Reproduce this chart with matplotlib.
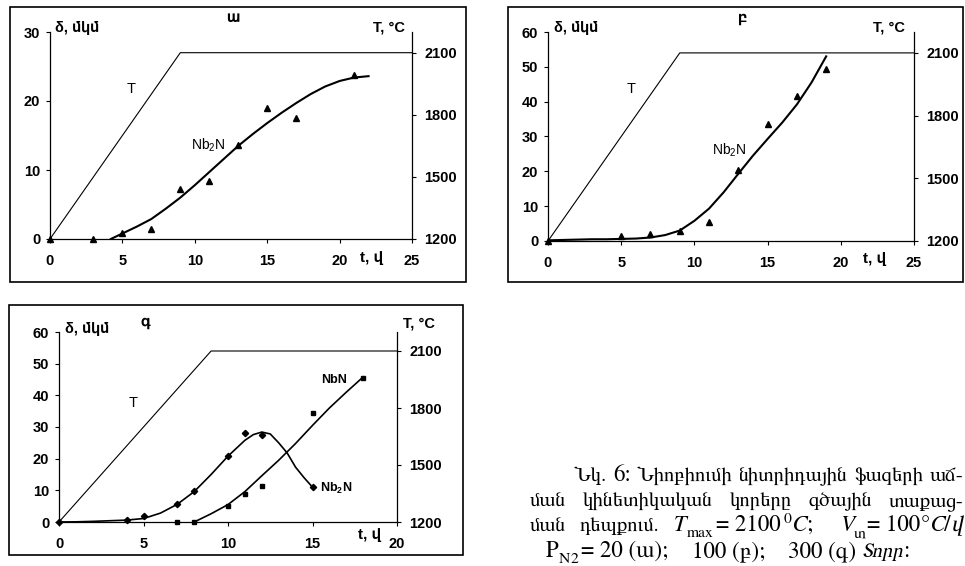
import matplotlib
matplotlib.use("Agg")
import matplotlib.pyplot as plt
from matplotlib.patches import Rectangle

plt.rcParams['font.family'] = ['Liberation Sans', 'FreeSans', 'DejaVu Sans']
plt.rcParams['mathtext.default'] = 'regular'

W, H = 965, 566
SERIF = ['FreeSerif', 'Liberation Serif', 'DejaVu Serif']

# temperature programme (right axis), same for all panels
T_t = [0, 9, 25]
T_val = [1200, 2100, 2100]
T_t_c = [0, 9, 20]

# panel a: P_N2 = 20 Torr
a_t = [0, 3, 5, 7, 9, 11, 13, 15, 17, 21]
a_nb2n = [0, 0, 0.8, 1.5, 7.2, 8.4, 13.6, 19.0, 17.5, 23.7]
a_fit_t = [4.2, 5, 6, 7, 8, 9, 10, 11, 12, 13, 14, 15, 16, 17, 18, 19, 20, 21, 22]
a_fit = [0, 0.8, 1.8, 2.9, 4.4, 6.0, 7.8, 9.7, 11.6, 13.5, 15.2, 16.8, 18.3, 19.7, 21.0, 22.1, 22.9, 23.4, 23.6]

# panel b: P_N2 = 100 Torr
b_t = [0, 5, 7, 9, 11, 13, 15, 17, 19]
b_nb2n = [0, 1.5, 2.0, 3.0, 5.5, 20.5, 33.5, 41.5, 49.5]
b_fit_t = [0, 1, 2, 3, 4, 5, 6, 7, 8, 9, 10, 11, 12, 13, 14, 15, 16, 17, 18, 19]
b_fit = [0.2, 0.3, 0.4, 0.5, 0.5, 0.6, 0.7, 1.0, 1.7, 3.0, 5.8, 9.3, 14.0, 19.3, 24.5, 29.3, 34.0, 39.2, 45.5, 53.0]

# panel c: P_N2 = 300 Torr
c_t_nb2n = [0, 4, 5, 7, 8, 10, 11, 12, 15]
c_nb2n = [0, 0.5, 1.8, 5.7, 9.8, 21.0, 28.0, 27.5, 11.0]
c_fit_t_nb2n = [0, 1, 2, 3, 4, 5, 6, 7, 8, 9, 10, 11, 11.5, 12, 12.5, 13, 13.5, 14, 14.5, 15]
c_fit_nb2n = [0, 0.05, 0.2, 0.4, 0.6, 1.1, 2.8, 5.6, 9.6, 15.0, 20.8, 25.8, 27.6, 28.4, 27.8, 25.0, 21.8, 17.3, 14.0, 11.0]
c_t_nbn = [7, 8, 10, 11, 12, 15, 18]
c_nbn = [0, 0, 5.2, 9.0, 11.5, 34.3, 45.5]
c_fit_t_nbn = [8, 9, 10, 11, 12, 13, 14, 15, 16, 17, 18]
c_fit_nbn = [0, 2.6, 5.5, 9.6, 14.6, 19.5, 24.8, 30.5, 36.0, 41.0, 45.8]

T_ticks = [1200, 1500, 1800, 2100]

cap_l1 = "Նկ. 6: Նիոբիումի նիտրիդային ֆազերի աճ-"
cap_l2 = "ման կինետիկական կորերը գծային տաքաց-"

fig = plt.figure(figsize=(W / 100, H / 100), dpi=100)
fig.patch.set_facecolor('white')


def px_axes(l, r, b, t):
    return fig.add_axes([l / W, 1 - b / H, (r - l) / W, (b - t) / H])


def ftext(x, y, s, **kw):
    return fig.text(x / W, 1 - y / H, s, **kw)


def frame(l, r, b, t):
    fig.add_artist(Rectangle((l / W, 1 - b / H), (r - l) / W, (b - t) / H,
                             transform=fig.transFigure, fill=False, lw=1.2, ec='k'))


def style(ax, xmax, ymax, ystep):
    ax.set_xlim(0, xmax)
    ax.set_ylim(0, ymax)
    ax.spines[['top', 'right']].set_visible(False)
    for s in ['left', 'bottom']:
        ax.spines[s].set_linewidth(0.9)
    ax.set_xticks(range(0, xmax + 1, 5))
    ax.set_yticks(range(0, ymax + 1, ystep))
    ax.tick_params(axis='x', direction='out', length=3, width=0.8, labelsize=10.5, pad=8)
    ax.tick_params(axis='y', direction='out', length=3, width=0.8, labelsize=10.5, pad=4)
    for lab in ax.get_xticklabels() + ax.get_yticklabels():
        lab.set_fontweight('bold')
    tx = ax.twinx()
    tx.set_ylim(1200, 2200)
    tx.set_yticks(T_ticks)
    tx.spines[['top', 'left', 'bottom']].set_visible(False)
    tx.spines['right'].set_linewidth(0.9)
    tx.tick_params(axis='y', direction='out', length=3, width=0.8, labelsize=10.5, pad=6)
    for lab in tx.get_yticklabels():
        lab.set_fontweight('bold')
    return tx


# ---- panel a
frame(10, 466, 282, 7)
ax = px_axes(50, 412, 239, 32)
tx = style(ax, 25, 30, 10)
tx.plot(T_t, T_val, color='k', lw=0.8, clip_on=False)
ax.plot(a_fit_t, a_fit, color='k', lw=1.5)
ax.plot(a_t, a_nb2n, '^', color='k', ms=4.5, clip_on=False)
ax.text(5.6, 21.7, "T", fontsize=10.5, ha='center', va='center')
ax.text(10.9, 13.6, "Nb$_2$N", fontsize=10, ha='center', va='center')
ftext(233, 18, "ա", fontsize=11, fontweight='bold', ha='center', va='center')
ftext(55, 28, "δ, մկմ", fontsize=10.5, fontweight='bold', ha='left', va='center')
ftext(405, 27, "T, °C", fontsize=10.5, fontweight='bold', ha='right', va='center')
ftext(372, 258, "t, վ", fontsize=11, fontweight='bold', ha='center', va='center')

# ---- panel b
frame(508, 963, 282, 7)
ax = px_axes(548, 914, 241, 32)
tx = style(ax, 25, 60, 10)
tx.plot(T_t, T_val, color='k', lw=0.8, clip_on=False)
ax.plot(b_fit_t, b_fit, color='k', lw=1.5)
ax.plot(b_t, b_nb2n, '^', color='k', ms=4.5, clip_on=False)
ax.text(5.7, 43.6, "T", fontsize=10.5, ha='center', va='center')
ax.text(12.4, 26.1, "Nb$_2$N", fontsize=10, ha='center', va='center')
ftext(743, 18, "բ", fontsize=11, fontweight='bold', ha='center', va='center')
ftext(554, 28, "δ, մկմ", fontsize=10.5, fontweight='bold', ha='left', va='center')
ftext(905, 28, "T, °C", fontsize=10.5, fontweight='bold', ha='right', va='center')
ftext(875, 259, "t, վ", fontsize=11, fontweight='bold', ha='center', va='center')

# ---- panel c
frame(9, 463, 555, 305)
ax = px_axes(59, 397, 522, 332)
tx = style(ax, 20, 60, 10)
tx.plot(T_t_c, T_val, color='k', lw=0.8, clip_on=False)
ax.plot(c_fit_t_nb2n, c_fit_nb2n, color='k', lw=1.2)
ax.plot(c_t_nb2n, c_nb2n, 'D', color='k', ms=3.2, clip_on=False)
ax.plot(c_fit_t_nbn, c_fit_nbn, color='k', lw=1.2)
ax.plot(c_t_nbn, c_nbn, 's', color='k', ms=3.5, clip_on=False)
ax.text(4.4, 37.5, "T", fontsize=10.5, ha='center', va='center')
ax.text(16.3, 44.8, "NbN", fontsize=9, fontweight='bold', ha='center', va='center')
ax.text(16.4, 10.7, "Nb$_2$N", fontsize=9, fontweight='bold', ha='center', va='center')
ftext(145, 322, "գ", fontsize=11, fontweight='bold', ha='center', va='center')
ftext(65, 329, "δ, մկմ", fontsize=10.5, fontweight='bold', ha='left', va='center')
ftext(403, 323, "T, °C", fontsize=10.5, fontweight='bold', ha='left', va='center')
ftext(370, 535, "t, վ", fontsize=11, fontweight='bold', ha='center', va='center')

# ---- caption (justified paragraph, first line indented, last line flush left)
renderer = fig.canvas.get_renderer()
LEFT, RIGHT, INDENT = 530, 963, 44
LATIN_SCALE = 1.12


def em(size):
    return size * 100 / 72


def make(s, kind, size):
    small = kind in ('sub', 'sup')
    ital = kind == 'i'
    n_arm = sum(1 for ch in s if 0x0530 <= ord(ch) <= 0x058F)
    if n_arm <= 1:
        size = size * LATIN_SCALE
    return fig.text(0, 0, s, fontsize=size * (0.68 if small else 1),
                    fontstyle='italic' if ital else 'normal', family=SERIF,
                    va='baseline')


def natural(parts, size):
    tot = 0
    for s, kind in parts:
        if kind == 'gap':
            tot += s * em(size)
        elif kind == 'flex':
            tot += 0.25 * em(size)
        else:
            t = make(s, kind, size)
            tot += t.get_window_extent(renderer).width
            t.remove()
    return tot


def caption_line(parts, size, y, x0, width=None):
    items = []
    for s, kind in parts:
        if kind == 'gap':
            items.append(['gap', s * em(size), 0])
            continue
        if kind == 'flex':
            items.append(['flex', 0, 0])
            continue
        t = make(s, kind, size)
        w = t.get_window_extent(renderer).width
        dy = {'sub': -0.3 * em(size), 'sup': 0.4 * em(size)}.get(kind, 0)
        items.append([t, w, dy])
    fixed = sum(it[1] for it in items)
    nflex = sum(1 for it in items if isinstance(it[0], str) and it[0] == 'flex')
    flexw = (width - fixed) / nflex if (width is not None and nflex) else 0.25 * em(size)
    x = x0
    for obj, w, dy in items:
        if isinstance(obj, str):
            x += flexw if obj == 'flex' else w
        else:
            obj.set_position((x / W, 1 - (y - dy) / H))
            x += w


def words(s):
    out = []
    for k, wd in enumerate(s.split(' ')):
        if k:
            out.append((None, 'flex'))
        out.append((wd, 'n'))
    return out


line3 = [("ման", 'n'), (None, 'flex'), ("դեպքում.", 'n'), (None, 'flex'),
         ("T", 'i'), ("max", 'sub'), (0.15, 'gap'), ("= 2100", 'n'), (0.15, 'gap'),
         ("0", 'sup'), ("C", 'i'), (";", 'n'), (None, 'flex'), (None, 'flex'),
         ("V", 'i'), ("տ", 'sub'), (0.05, 'gap'), ("= 100", 'n'), (0.05, 'gap'),
         ("°", 'n'), ("C", 'i'), ("/", 'n'), ("վ", 'i')]
line4 = [("P", 'n'), ("N", 'sub'), ("2", 'sub'), (0.12, 'gap'), ("= 20 (ա);", 'n'),
         (1.2, 'gap'), ("100 (բ);", 'n'), (1.1, 'gap'), ("300 (գ)", 'n'), (0.3, 'gap'),
         ("Տորր", 'i'), (":", 'n')]

CAP = 16.0
while CAP > 6 and (natural(words(cap_l1), CAP) > RIGHT - LEFT - INDENT
                   or natural(words(cap_l2), CAP) > RIGHT - LEFT
                   or natural(line3, CAP) > RIGHT - LEFT):
    CAP -= 0.25

caption_line(words(cap_l1), CAP, 481, LEFT + INDENT, RIGHT - LEFT - INDENT)
caption_line(words(cap_l2), CAP, 506, LEFT, RIGHT - LEFT)
caption_line(line3, CAP, 531, LEFT, RIGHT - LEFT)
caption_line(line4, CAP, 557, LEFT + 16)

fig.savefig("out.png", dpi=100, facecolor='white')
